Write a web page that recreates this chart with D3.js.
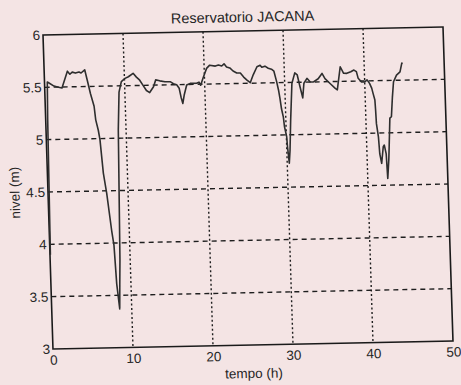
<!DOCTYPE html>
<html><head><meta charset="utf-8">
<script src="https://cdn.jsdelivr.net/npm/d3@7"></script>
<style>
html,body{margin:0;padding:0;background:#f4e4e4;}
svg{display:block;}
text{font-family:"Liberation Sans",Arial,sans-serif;fill:#262626;}
</style></head><body>
<svg id="chart" width="461" height="385"></svg>
<script>
const title = "Reservatorio JACANA";
const xLabel = "tempo (h)";
const yLabel = "nivel (m)";
const xTicks = [0, 10, 20, 30, 40, 50];
const yTicks = [3, 3.5, 4, 4.5, 5, 5.5, 6];

const tempo = [0.05,0.25,0.35,0.56,1.17,1.6,2.16,2.9,3.2,3.5,3.9,4.35,4.6,5.07,5.35,5.7,6.1,6.25,6.53,6.7,6.99,7.33,7.8,8.03,8.22,8.5,
  8.6,8.72,9.03,9.27,9.6,10.07,10.5,11.1,11.5,11.9,12.3,12.7,13.1,13.6,13.9,14.4,15.05,15.7,16.1,16.5,16.8,17.0,17.2,17.4,17.75,18.2,19.0,19.3,19.5,19.8,
  20.3,20.7,21.4,21.8,22.2,22.5,22.8,23.2,23.6,24.05,24.5,24.9,25.3,25.7,26.1,26.6,27.0,27.2,27.6,28.0,28.4,28.7,29.0,29.2,29.35,29.5,29.7,29.8,30.04,30.1,30.26,
  30.4,30.6,30.9,31.3,31.6,31.9,32.2,32.4,32.8,33.2,33.6,34.2,34.7,35.05,35.7,36.3,36.55,37.0,37.4,37.8,38.3,38.7,39.0,39.2,39.6,40.0,40.3,40.6,40.85,
  41.0,41.2,41.25,41.3,41.5,41.6,41.8,42.06,42.2,42.4,42.45,42.5,42.7,42.8,43.0,43.2,43.4,43.6,44.0,44.45,44.7,44.8];
const nivel = [3.90,5.20,5.55,5.54,5.51,5.50,5.49,5.65,5.62,5.64,5.63,5.64,5.63,5.66,5.56,5.43,5.31,5.18,5.08,4.99,4.67,4.475,4.12,3.98,3.61,3.37,
  3.60,3.84,5.08,5.44,5.54,5.57,5.585,5.617,5.58,5.55,5.50,5.45,5.43,5.485,5.55,5.54,5.53,5.53,5.51,5.50,5.465,5.38,5.32,5.40,5.495,5.51,5.51,5.52,5.49,5.555,
  5.65,5.68,5.67,5.68,5.67,5.69,5.66,5.65,5.62,5.60,5.60,5.56,5.53,5.505,5.58,5.656,5.67,5.65,5.66,5.64,5.63,5.61,5.51,5.43,5.35,5.25,5.17,5.08,4.98,4.886,4.73,
  4.85,5.14,5.49,5.59,5.57,5.457,5.35,5.49,5.536,5.50,5.50,5.53,5.58,5.53,5.48,5.435,5.42,5.64,5.577,5.576,5.59,5.606,5.59,5.526,5.49,5.49,5.51,5.476,5.43,
  5.38,5.316,5.22,5.09,4.96,4.80,4.71,4.868,4.884,4.80,4.676,4.565,4.74,4.867,5.14,5.153,5.34,5.487,5.55,5.58,5.66,5.667];

const W = 400, H = 314;
const svg = d3.select("#chart");
// slight skew/rotation to match the scanned reference
const g = svg.append("g").attr("transform", "matrix(1,-0.02,0.0318,1,43,35)");

const x = d3.scaleLinear().domain([0, 50]).range([0, W]);
const y = d3.scaleLinear().domain([3, 6]).range([H, 0]);

// grid
g.append("g").selectAll("line").data(yTicks.filter(d => d > 3 && d < 6)).join("line")
  .attr("x1", 0).attr("x2", W).attr("y1", d => y(d)).attr("y2", d => y(d))
  .attr("stroke", "#1e1e1e").attr("stroke-width", 1.4).attr("stroke-dasharray", "5,4");
g.append("g").selectAll("line").data(xTicks.filter(d => d > 0 && d < 50)).join("line")
  .attr("x1", d => x(d)).attr("x2", d => x(d)).attr("y1", 0).attr("y2", H)
  .attr("stroke", "#1e1e1e").attr("stroke-width", 1.4).attr("stroke-dasharray", "2,2.5");

// axes
const xAxis = g.append("g").attr("transform", `translate(0,${H})`)
  .call(d3.axisBottom(x).tickValues(xTicks).tickFormat(d3.format("d")).tickSize(0).tickPadding(6));
const yAxis = g.append("g")
  .call(d3.axisLeft(y).tickValues(yTicks).tickFormat(d => d).tickSize(0).tickPadding(3));
[xAxis, yAxis].forEach(a => {
  a.select(".domain").remove();
  a.selectAll("text").attr("font-size", 13.5).attr("font-family", "'Liberation Sans',Arial,sans-serif").attr("fill", "#262626");
});

// frame
g.append("rect").attr("x", 0).attr("y", 0).attr("width", W).attr("height", H)
  .attr("fill", "none").attr("stroke", "#1a1a1a").attr("stroke-width", 1.6);

// data line
const line = d3.line().x((d, i) => x(tempo[i])).y((d, i) => y(nivel[i]));
g.append("path").datum(nivel).attr("d", line)
  .attr("fill", "none").attr("stroke", "#2e2e2e").attr("stroke-width", 1.6).attr("stroke-linejoin", "round");

// labels
g.append("text").attr("x", W / 2).attr("y", -9).attr("text-anchor", "middle")
  .attr("font-size", 14.5).text(title);
g.append("text").attr("x", W / 2).attr("y", 347).attr("text-anchor", "middle")
  .attr("font-size", 13.5).text(xLabel);
g.append("text").attr("transform", `translate(-28.5,${H / 2}) rotate(-90)`).attr("text-anchor", "middle")
  .attr("font-size", 13.5).text(yLabel);
</script>
</body></html>
